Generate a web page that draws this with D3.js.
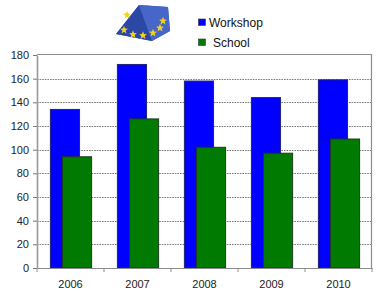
<!DOCTYPE html>
<html><head><meta charset="utf-8">
<script src="https://cdn.jsdelivr.net/npm/d3@7"></script>
<style>
html,body{margin:0;padding:0;background:#fff;}
svg{display:block;font-family:"Liberation Sans",Arial,sans-serif;}
</style></head>
<body>
<svg id="c" width="376" height="293"></svg>
<script>
const years = ["2006","2007","2008","2009","2010"];
const workshop = [134, 172, 158, 144, 159];
const school = [94, 126, 102, 97, 109];
const yTicks = [0,20,40,60,80,100,120,140,160,180];
const seriesNames = ["Workshop","School"];
const seriesColors = ["#0000ff","#007a00"];
const seriesStrokes = ["#22227a","#1e3a1e"];

const svg = d3.select("#c");
const L = 37, R = 372, T = 55, B = 268;
const x = d3.scaleBand().domain(years).range([L, R]).padding(0);
const y = d3.scaleLinear().domain([0, 180]).range([B, T]);
const bw = x.bandwidth();

// gridlines
svg.append("g").selectAll("line").data(yTicks.filter(t => t > 0 && t < 180)).join("line")
  .attr("x1", L).attr("x2", R).attr("y1", d => Math.round(y(d)) + 0.5).attr("y2", d => Math.round(y(d)) + 0.5)
  .attr("stroke", "#7a7a7a").attr("stroke-width", 1).attr("stroke-dasharray", "1.6,1");

// plot border (top, right)
svg.append("path")
  .attr("d", `M${L},${T - 0.5}H${R - 0.5}V${B}`)
  .attr("fill", "none").attr("stroke", "#8c8c8c").attr("stroke-width", 1.2);

// bars
const series = [workshop, school];
const offsets = [0.2, 0.38];
series.forEach((vals, si) => {
  svg.append("g").selectAll("rect").data(years).join("rect")
    .attr("x", d => x(d) + bw * offsets[si])
    .attr("width", bw * 0.435)
    .attr("y", (d, i) => y(vals[i]))
    .attr("height", (d, i) => B - y(vals[i]))
    .attr("fill", seriesColors[si])
    .attr("stroke", seriesStrokes[si]).attr("stroke-width", 1);
});

// y axis
const yAxis = svg.append("g").attr("transform", `translate(${L},0)`)
  .call(d3.axisLeft(y).tickValues(yTicks).tickSize(4).tickPadding(4).tickSizeOuter(0));
yAxis.select(".domain").attr("stroke", "#9a9a9a").attr("stroke-width", 1.6);
yAxis.selectAll(".tick line").attr("stroke", "#777");
yAxis.selectAll(".tick text").attr("font-size", 11).attr("fill", "#222")
  .attr("font-family", "Liberation Sans, Arial, sans-serif");

// x axis
const xAxis = svg.append("g").attr("transform", `translate(0,${B})`)
  .call(d3.axisBottom(x).tickSize(0).tickPadding(12).tickSizeOuter(0));
xAxis.select(".domain").attr("stroke", "#8c8c8c").attr("stroke-width", 1.2);
xAxis.selectAll(".tick text").attr("font-size", 11).attr("fill", "#222")
  .attr("font-family", "Liberation Sans, Arial, sans-serif");
// boundary ticks
svg.append("g").selectAll("line").data(years.concat(["end"])).join("line")
  .attr("x1", (d, i) => i < years.length ? x(d) : R).attr("x2", (d, i) => i < years.length ? x(d) : R)
  .attr("y1", B).attr("y2", B + 4).attr("stroke", "#8c8c8c").attr("stroke-width", 1);

// legend
const lg = svg.append("g");
const legY = [22.5, 42.5];
const legTextX = [209, 213];
seriesNames.forEach((n, i) => {
  lg.append("rect").attr("x", 198.5).attr("y", legY[i] - 3.5).attr("width", 7).attr("height", 6.5)
    .attr("fill", seriesColors[i]).attr("stroke", "#333").attr("stroke-width", 0.6);
  lg.append("text").attr("x", legTextX[i]).attr("y", legY[i] + 4).attr("font-size", 12).attr("fill", "#111").text(n);
});

// logo (pyramid with stars)
const logo = svg.append("g");
logo.append("polygon").attr("points", "139,5 168,7 170,31 152,41 116,34").attr("fill", "#3a56b8");
logo.append("polygon").attr("points", "139,5 152,41 116,34").attr("fill", "#2c48a6");
logo.append("polygon").attr("points", "139,5 168,7 170,31 152,41").attr("fill", "#4767c8");
function star(cx, cy, r) {
  const pts = [];
  for (let k = 0; k < 10; k++) {
    const a = -Math.PI / 2 + k * Math.PI / 5;
    const rr = k % 2 === 0 ? r : r * 0.42;
    pts.push([cx + rr * Math.cos(a), cy + rr * Math.sin(a)]);
  }
  return pts.map(p => p.join(",")).join(" ");
}
const stars = [[124,30],[133,34.5],[143,35.5],[153,33],[160,28],[163,21],[127,15]];
logo.selectAll(".s").data(stars).join("polygon").attr("class","s")
  .attr("points", d => star(d[0], d[1], 4.2)).attr("fill", "#f4d21c");
</script>
</body></html>
